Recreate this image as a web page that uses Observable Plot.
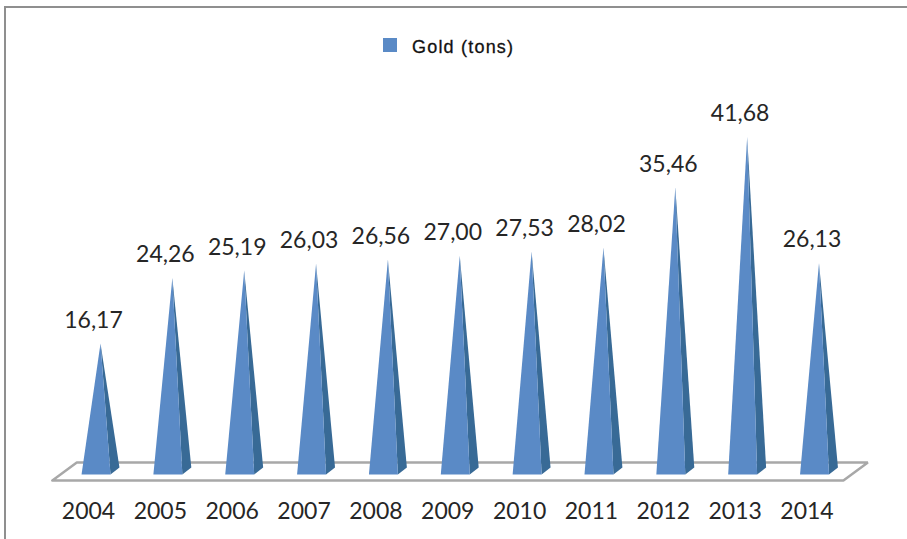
<!DOCTYPE html>
<html>
<head>
<meta charset="utf-8">
<script src="https://cdn.jsdelivr.net/npm/d3@7"></script>
<script src="https://cdn.jsdelivr.net/npm/@observablehq/plot@0.6"></script>
<style>
  html, body { margin: 0; background: #fff; }
  #frame { position: relative; width: 907px; height: 539px; overflow: hidden; }
  #frame::before { content: ""; position: absolute; left: 4px; top: 6px; right: 0; bottom: 0;
    border-left: 2px solid #8f8f8f; border-top: 2px solid #8f8f8f; }
  #legend { position: absolute; left: 383px; top: 37px; display: flex; align-items: center;
    font: 18px "Liberation Sans", sans-serif; letter-spacing: 1.2px; -webkit-text-stroke: 0.3px #111; color: #111; }
  #legend i { width: 14px; height: 14px; background: #5a8ac6; margin-right: 15px; margin-top: -6px; }
  svg { position: absolute; left: 0; top: 0; background: transparent !important; }
</style>
</head>
<body>
<div id="frame"><div id="legend"><i></i><span>Gold (tons)</span></div></div>
<script>
const years = [2004, 2005, 2006, 2007, 2008, 2009, 2010, 2011, 2012, 2013, 2014];
const goldTons = [16.17, 24.26, 25.19, 26.03, 26.56, 27.0, 27.53, 28.02, 35.46, 41.68, 26.13];
const valueLabels = ["16,17", "24,26", "25,19", "26,03", "26,56", "27,00", "27,53", "28,02", "35,46", "41,68", "26,13"];

// Shape of one pyramid, in years left or right of its apex and tons above the floor.
const frontEdge = [-0.264, 0.139];
const sideEdge = 0.264;
const sideRise = 0.86;

// Outline of the slanted floor plane under the pyramids.
const floorYears = [2003.33, 2003.67, 2014.68, 2014.34, 2003.33];
const floorTons = [-0.74, 1.48, 1.48, -0.74, -0.74];
const floor = floorYears.map((x, i) => ({x, y: floorTons[i]}));

const rows = years.map((year, i) => ({year, tons: goldTons[i], label: valueLabels[i]}));
const front = rows.flatMap(d => [
  {year: d.year, x: d.year + frontEdge[0], y: 0},
  {year: d.year, x: d.year, y: d.tons},
  {year: d.year, x: d.year + frontEdge[1], y: 0}
]);
const side = rows.flatMap(d => [
  {year: d.year, x: d.year + frontEdge[1], y: 0},
  {year: d.year, x: d.year, y: d.tons},
  {year: d.year, x: d.year + sideEdge, y: sideRise}
]);

const chart = Plot.plot({
  width: 907,
  height: 539,
  marginTop: 0, marginRight: 0, marginBottom: 0, marginLeft: 0,
  x: {domain: [2004, 2014], range: [100, 818.5]},
  y: {domain: [0, 41.68], range: [474, 136.5], axis: null},
  style: {background: "transparent"},
  marks: [
    Plot.line(floor, {x: "x", y: "y", stroke: "#a8a8a8", strokeWidth: 2.5, strokeLinejoin: "miter", curve: "linear"}),
    Plot.line(side, {x: "x", y: "y", z: "year", fill: "#386a96", stroke: null, curve: "linear"}),
    Plot.line(front, {x: "x", y: "y", z: "year", fill: "#5a8ac6", stroke: null, curve: "linear"}),
    Plot.text(rows, {x: "year", y: "tons", text: "label", dx: -7, dy: -23, fontSize: 23, fontFamily: "Lato", fill: "#262626"}),
    Plot.axisX({ticks: years, tickFormat: d => String(d), tickSize: 0, tickPadding: 0, anchor: "bottom", dx: -12, dy: -37,
      fontSize: 23, fontFamily: "Lato", fill: "#262626", label: null})
  ]
});
document.getElementById("frame").appendChild(chart);
</script>
</body>
</html>
